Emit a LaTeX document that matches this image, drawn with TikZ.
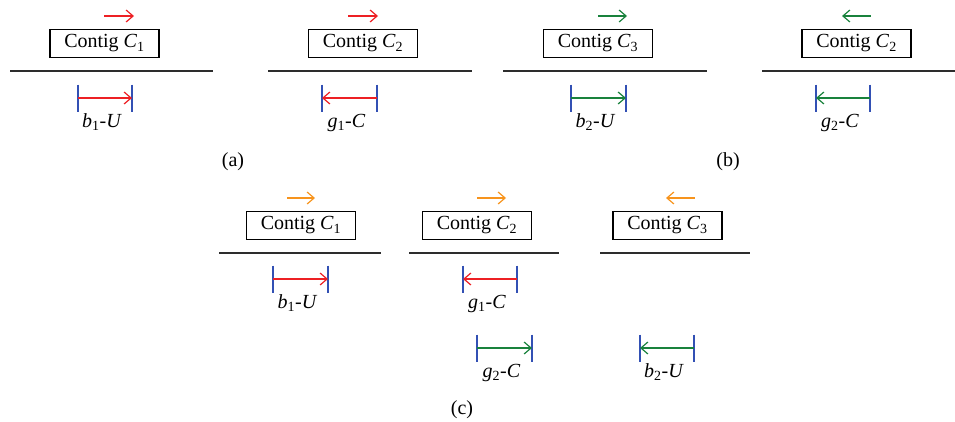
\documentclass[tikz,border=0pt]{standalone}
\usepackage{fontspec}
\setmainfont{Liberation Serif}
\usetikzlibrary{arrows.meta,calc}
\definecolor{cred}{RGB}{237,32,36}
\definecolor{cgreen}{RGB}{25,130,60}
\definecolor{corange}{RGB}{247,148,29}
\definecolor{cblue}{RGB}{50,80,180}
\definecolor{cline}{RGB}{45,45,45}
\newcommand\myinterval[7]{%
  \coordinate (#1l) at (#2,#4);
  \coordinate (#1r) at (#3,#4);
  \draw[tick] ([yshift=13.5pt]#1l) -- ([yshift=-13.5pt]#1l);
  \draw[tick] ([yshift=13.5pt]#1r) -- ([yshift=-13.5pt]#1r);
  \draw[#6,#5] (#1l) -- (#1r);
  \node[lab] (#1t) at ([xshift=-3pt,yshift=-29.5pt]$(#1l)!0.5!(#1r)$) {#7};
}
\newcommand\mytop[5]{%
  \coordinate (#1s) at (#2,#4);
  \coordinate (#1e) at (#3,#4);
  \draw[#5] (#1s) -- (#1e);
}
\begin{document}
\begin{tikzpicture}[x=1pt,y=-1pt,font=\fontsize{20}{24}\selectfont,
  contig/.style={draw, line width=1.3pt, minimum width=109pt, minimum height=28pt, inner sep=0pt},
  strand/.style={draw=cline, line width=1.5pt},
  fwd/.style={line width=1.2pt, -{Straight Barb[length=7pt,width=12pt]}},
  bwd/.style={line width=1.2pt, {Straight Barb[length=7pt,width=12pt]}-},
  tick/.style={draw=cblue, line width=1.5pt},
  lab/.style={anchor=base, inner sep=0pt},
]
\useasboundingbox (0,0) rectangle (955,421);
% ---- (a) panel 1
\mytop{t1}{104}{134}{16}{fwd,cred}
\node[contig] (b1) at (104.5,43.5) {Contig \textit{C}\textsubscript{1}};
\coordinate (s1a) at (10,71); \coordinate (s1b) at (213,71);
\draw[strand] (s1a) -- (s1b);
\myinterval{i1}{78}{132}{98}{cred}{fwd}{\textit{b}\textsubscript{1}-\textit{U}}
% ---- (a) panel 2
\mytop{t2}{348}{378}{16}{fwd,cred}
\node[contig] (b2) at (363,43.5) {Contig \textit{C}\textsubscript{2}};
\coordinate (s2a) at (268,71); \coordinate (s2b) at (472,71);
\draw[strand] (s2a) -- (s2b);
\myinterval{i2}{322}{377}{98}{cred}{bwd}{\textit{g}\textsubscript{1}-\textit{C}}
% ---- (b) panel 3
\mytop{t3}{598}{627}{16}{fwd,cgreen}
\node[contig] (b3) at (598,43.5) {Contig \textit{C}\textsubscript{3}};
\coordinate (s3a) at (503,71); \coordinate (s3b) at (707,71);
\draw[strand] (s3a) -- (s3b);
\myinterval{i3}{571}{626}{98}{cgreen}{fwd}{\textit{b}\textsubscript{2}-\textit{U}}
% ---- (b) panel 4
\mytop{t4}{842}{871}{16}{bwd,cgreen}
\node[contig] (b4) at (856.5,43.5) {Contig \textit{C}\textsubscript{2}};
\coordinate (s4a) at (762,71); \coordinate (s4b) at (955,71);
\draw[strand] (s4a) -- (s4b);
\myinterval{i4}{816}{870}{98}{cgreen}{bwd}{\textit{g}\textsubscript{2}-\textit{C}}
\node[lab] (capa) at (233,166) {(a)};
\node[lab] (capb) at (728,166) {(b)};
% ---- (c) panel 1
\mytop{t5}{287}{315}{198}{fwd,corange}
\node[contig] (b5) at (301,225.5) {Contig \textit{C}\textsubscript{1}};
\coordinate (s5a) at (219,253); \coordinate (s5b) at (381,253);
\draw[strand] (s5a) -- (s5b);
\myinterval{i5}{273}{328}{279}{cred}{fwd}{\textit{b}\textsubscript{1}-\textit{U}}
% ---- (c) panel 2
\mytop{t6}{477}{506}{198}{fwd,corange}
\node[contig] (b6) at (477,225.5) {Contig \textit{C}\textsubscript{2}};
\coordinate (s6a) at (409,253); \coordinate (s6b) at (559,253);
\draw[strand] (s6a) -- (s6b);
\myinterval{i6}{463}{517}{279}{cred}{bwd}{\textit{g}\textsubscript{1}-\textit{C}}
\myinterval{i7}{477}{532}{348}{cgreen}{fwd}{\textit{g}\textsubscript{2}-\textit{C}}
% ---- (c) panel 3
\mytop{t8}{666}{695}{198}{bwd,corange}
\node[contig] (b8) at (667.5,225.5) {Contig \textit{C}\textsubscript{3}};
\coordinate (s8a) at (600,253); \coordinate (s8b) at (750,253);
\draw[strand] (s8a) -- (s8b);
\myinterval{i8}{640}{694}{348}{cgreen}{bwd}{\textit{b}\textsubscript{2}-\textit{U}}
\node[lab] (capc) at (462,414) {(c)};
\end{tikzpicture}
\end{document}
